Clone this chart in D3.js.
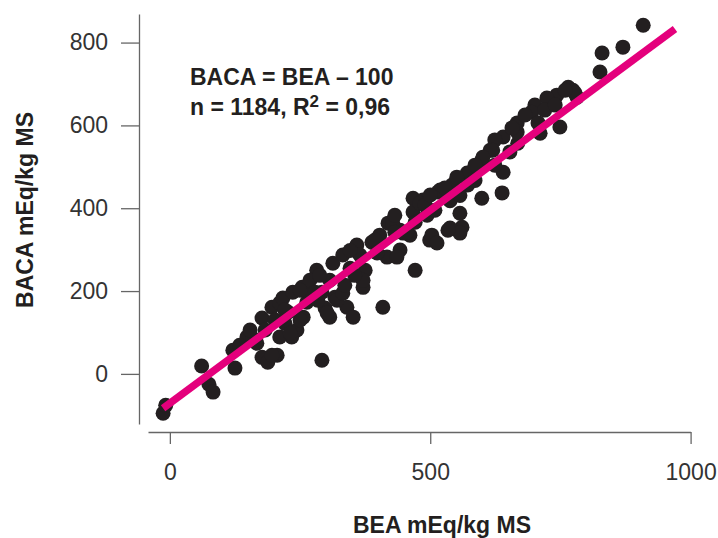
<!DOCTYPE html>
<html>
<head>
<meta charset="utf-8">
<script src="https://cdn.jsdelivr.net/npm/d3@7"></script>
<style>
  body { margin: 0; background: #fff; }
  svg text { font-family: "Liberation Sans", Arial, Helvetica, sans-serif; }
  .axis path, .axis line { stroke: #666; stroke-width: 1.3; }
  .axis text { font-size: 23px; fill: #333; }
</style>
</head>
<body>
<div id="chart"></div>
<script>
// BEA (x) and BACA (y), mEq/kg MS
var bea = [-13,-8,61,75,83,121,125,148,159,167,177,196,211,177,188,206,183,217,236,254,244,234,211,221,
  256,263,282,292,298,307,313,317,332,340,261,359,388,419,442,461,467,499,471,409,371,375,346,307,321,352,
  302,417,398,442,640,615,599,571,542,515,486,467,494,557,599,638,640,561,538,557,503,513,428,448,436,668,
  572,765,743,724,701,695,707,711,749,667,667,624,620,601,653,774,909,870,830,826,782,576,551,519,480,534,
  490,250,332,455,371,231,196,778,759,682,657,586,528,500,432,403,365,269,227,202,
  538,586,624,720,740,557,509,471,432,394,346,288,250,279,221,154,134,284,336,355,292];
var baca = [-95,-76,19,-25,-44,57,14,89,86,74,135,161,171,40,28,45,106,183,197,209,106,89,89,122,
  137,173,250,33,159,137,267,185,287,161,202,311,318,364,347,335,424,323,250,161,209,250,255,226,178,137,
  147,282,292,299,572,540,516,485,456,439,420,391,383,388,424,437,487,354,352,340,335,316,364,340,282,557,
  456,692,673,666,649,632,606,581,596,606,584,565,540,523,536,685,842,789,775,729,668,485,475,444,412,347,
  408,130,195,342,226,98,45,678,685,625,594,504,449,432,383,335,287,226,149,130,
  418,467,504,637,649,431,395,366,342,323,298,238,202,197,154,106,69,178,214,238,197];

// regression line end points
var fitX = [-13, 970];
var fitY = [-83, 833];

var xTicks = [0, 500, 1000];
var yTicks = [0, 200, 400, 600, 800];

var W = 718, H = 538;
var svg = d3.select('#chart').append('svg').attr('width', W).attr('height', H);

var x = d3.scaleLinear().domain([-42, 1000]).range([148, 690.6]);
var y = d3.scaleLinear().domain([-121, 869]).range([424, 14]);

svg.append('g')
  .attr('class', 'axis')
  .attr('transform', 'translate(0,432)')
  .call(d3.axisBottom(x).tickValues(xTicks).tickSizeInner(12).tickSizeOuter(0).tickPadding(20).tickFormat(d3.format('d')));

svg.append('g')
  .attr('class', 'axis')
  .attr('transform', 'translate(139,0)')
  .call(d3.axisLeft(y).tickValues(yTicks).tickSizeInner(18).tickSizeOuter(0).tickPadding(13).tickFormat(d3.format('d')));

svg.selectAll('.axis text').attr('font-family', null);

// points
svg.append('g').selectAll('circle')
  .data(d3.range(bea.length))
  .join('circle')
  .attr('cx', function(i) { return x(bea[i]); })
  .attr('cy', function(i) { return y(baca[i]); })
  .attr('r', 7.5)
  .attr('fill', '#231f20');

// fit line
svg.append('line')
  .attr('x1', x(fitX[0])).attr('y1', y(fitY[0]))
  .attr('x2', x(fitX[1])).attr('y2', y(fitY[1]))
  .attr('stroke', '#e4007c')
  .attr('stroke-width', 7.5);

// annotation
var note = svg.append('g').style('font-size', '23px').style('font-weight', 'bold').attr('fill', '#231f20');
note.append('text').attr('x', 190).attr('y', 85).text('BACA = BEA \u2013 100');
var l2 = note.append('text').attr('x', 190).attr('y', 115);
l2.append('tspan').text('n = 1184, R');
l2.append('tspan').attr('dy', -8).style('font-size', '17px').text('2');
l2.append('tspan').attr('dy', 8).text(' = 0,96');

// axis titles
svg.append('text')
  .attr('x', 442).attr('y', 533)
  .attr('text-anchor', 'middle')
  .style('font-size', '23px').style('font-weight', 'bold').attr('fill', '#231f20')
  .text('BEA mEq/kg MS');

svg.append('text')
  .attr('transform', 'translate(33,210) rotate(-90)')
  .attr('text-anchor', 'middle')
  .style('font-size', '23px').style('font-weight', 'bold').attr('fill', '#231f20')
  .text('BACA mEq/kg MS');
</script>
</body>
</html>
